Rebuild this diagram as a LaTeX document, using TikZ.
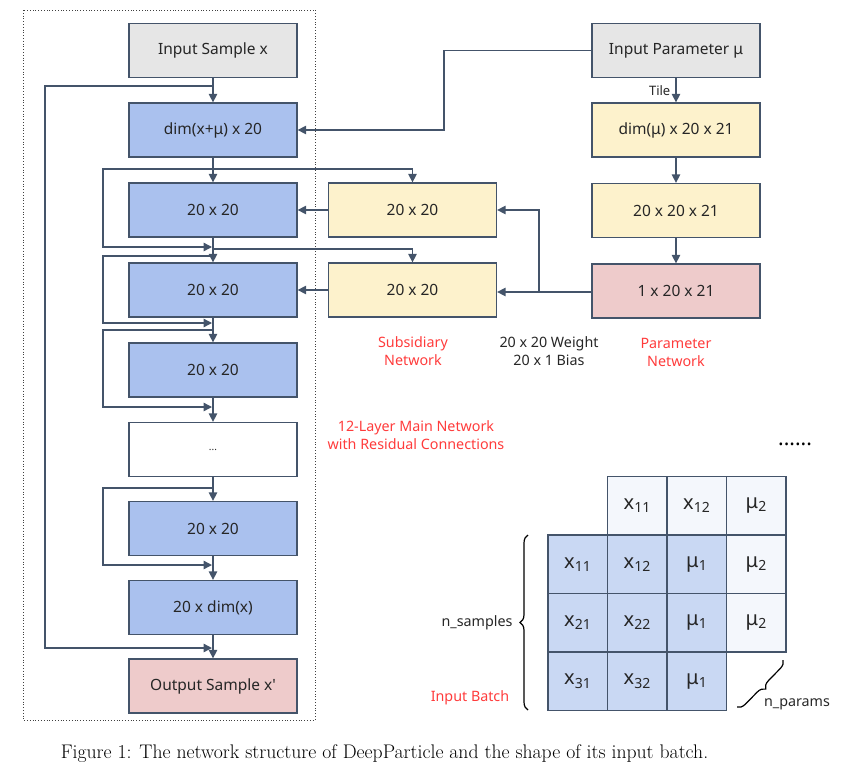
\documentclass[tikz,border=0pt]{standalone}
\usepackage{fontspec}
\newfontfamily\dfont{Noto Sans}
\usetikzlibrary{arrows.meta,decorations.pathreplacing}
\definecolor{edge}{HTML}{44546A}
\definecolor{gfill}{HTML}{E6E6E6}
\definecolor{bfill}{HTML}{AAC1EE}
\definecolor{yfill}{HTML}{FDF2CC}
\definecolor{pfill}{HTML}{EECBCB}
\definecolor{cfront}{HTML}{C9D8F3}
\definecolor{cback}{HTML}{F4F7FC}
\definecolor{redtxt}{HTML}{FF3B3B}
\definecolor{txt}{HTML}{262626}
\begin{document}
\begin{tikzpicture}[x=1pt,y=-1pt,
  box/.style={draw=edge, line width=1.3pt, minimum width=168pt, minimum height=54pt, inner sep=0pt, text=txt, font=\dfont\fontsize{15.5}{17}\selectfont},
  conn/.style={draw=edge, line width=1.4pt},
  arr/.style={conn, -{Triangle[length=8.5pt,width=8.5pt]}},
  note/.style={font=\dfont\fontsize{14.3}{18}\selectfont, align=center, inner sep=0pt},
  cell/.style={draw=edge, line width=1.1pt, minimum width=59.5pt, minimum height=58.5pt, inner sep=0pt, text=txt, font=\dfont\fontsize{20}{22}\selectfont},
  brc/.style={draw=black, line width=1.2pt, decorate, decoration={brace, amplitude=8pt}}
]
\useasboundingbox (0,0) rectangle (844,769);
% frame
\draw[black!75, dotted, line width=0.8pt] (23,10) rectangle (315,720);
% main column
\node[box, fill=gfill] (in) at (213,50.5) {Input Sample x};
\node[box, fill=bfill] (l0) at (213,130) {dim(x+μ) x 20};
\node[box, fill=bfill] (l1) at (213,210) {20 x 20};
\node[box, fill=bfill] (l2) at (213,290) {20 x 20};
\node[box, fill=bfill] (l3) at (213,370) {20 x 20};
\node[box, fill=white] (ld) at (213,449.5) {\fontsize{10}{10}\selectfont ...};
\node[box, fill=bfill] (l4) at (213,528.5) {20 x 20};
\node[box, fill=bfill] (l5) at (213,607.5) {20 x dim(x)};
\node[box, fill=pfill] (out) at (213,686) {Output Sample x'};
% subsidiary
\node[box, fill=yfill] (s1) at (412.5,210) {20 x 20};
\node[box, fill=yfill] (s2) at (412.5,290) {20 x 20};
% parameter network
\node[box, fill=gfill] (pin) at (676,50.5) {Input Parameter μ};
\node[box, fill=yfill] (p1) at (676,130) {dim(μ) x 20 x 21};
\node[box, fill=yfill] (p2) at (676,210.5) {20 x 20 x 21};
\node[box, fill=pfill] (p3) at (676,291) {1 x 20 x 21};
% junction coordinates
\coordinate (j0) at (213,86);
\coordinate (e0) at (213,648);
\coordinate (j1) at (213,169);
\coordinate (e1) at (213,247);
\coordinate (k2) at (213,249);
\coordinate (j2) at (213,256);
\coordinate (e2) at (213,323);
\coordinate (j3) at (213,330);
\coordinate (e3) at (213,407);
\coordinate (j4) at (213,488);
\coordinate (e4) at (213,565);
\coordinate (bp) at (444,130);
\coordinate (bq) at (539,292);
% main vertical flow
\draw[arr] (in) -- (l0);
\draw[arr] (l0) -- (l1);
\draw[arr] (l1) -- (l2);
\draw[arr] (l2) -- (l3);
\draw[arr] (l3) -- (ld);
\draw[arr] (ld) -- (l4);
\draw[arr] (l4) -- (l5);
\draw[arr] (l5) -- (out);
% residual connections
\draw[arr] (j0) -- ++(-168,0) |- ([xshift=-1pt]e0);
\draw[arr] (j1) -- ++(-110,0) |- ([xshift=-1pt]e1);
\draw[arr] (j2) -- ++(-110,0) |- ([xshift=-1pt]e2);
\draw[arr] (j3) -- ++(-110,0) |- ([xshift=-1pt]e3);
\draw[arr] (j4) -- ++(-110,0) |- ([xshift=-1pt]e4);
% to subsidiary
\draw[arr] (j1) -| (s1.north);
\draw[arr] (k2) -| (s2.north);
\draw[arr] (s1) -- (l1);
\draw[arr] (s2) -- (l2);
% parameter to main
\draw[arr] (pin.west) -| (bp) -- (l0.east);
\draw[arr] (pin) -- node[left=5pt, note, font=\dfont\fontsize{13}{14}\selectfont, text=txt] {Tile} (p1);
\draw[arr] (p1) -- (p2);
\draw[arr] (p2) -- (p3);
\draw[arr] (p3.west |- bq) -- (s2.east |- bq);
\draw[arr] (bq) |- (s1.east);
% labels
\node[note, text=redtxt] (lsub) at (413,351) {Subsidiary\\Network};
\node[note, text=txt] (lwb) at (549,351) {20 x 20 Weight\\20 x 1 Bias};
\node[note, text=redtxt] (lpar) at (676,352) {Parameter\\Network};
\node[note, text=redtxt] (lmain) at (416,435) {12-Layer Main Network\\with Residual Connections};
\node[font=\dfont\bfseries\fontsize{21}{22}\selectfont, inner sep=0pt] (dots) at (795,444) {......};
% batch grid: back layer
\node[cell, fill=cback] (b11) at (637.25,505.75) {x\textsubscript{11}};
\node[cell, fill=cback] (b12) at (696.75,505.75) {x\textsubscript{12}};
\node[cell, fill=cback] (b13) at (756.25,505.75) {μ\textsubscript{2}};
\node[cell, fill=cback] (b23) at (756.25,564.25) {μ\textsubscript{2}};
\node[cell, fill=cback] (b33) at (756.25,622.75) {μ\textsubscript{2}};
% front layer
\node[cell, fill=cfront] (f11) at (577.75,564.25) {x\textsubscript{11}};
\node[cell, fill=cfront] (f12) at (637.25,564.25) {x\textsubscript{12}};
\node[cell, fill=cfront] (f13) at (696.75,564.25) {μ\textsubscript{1}};
\node[cell, fill=cfront] (f21) at (577.75,622.75) {x\textsubscript{21}};
\node[cell, fill=cfront] (f22) at (637.25,622.75) {x\textsubscript{22}};
\node[cell, fill=cfront] (f23) at (696.75,622.75) {μ\textsubscript{1}};
\node[cell, fill=cfront] (f31) at (577.75,681.25) {x\textsubscript{31}};
\node[cell, fill=cfront] (f32) at (637.25,681.25) {x\textsubscript{32}};
\node[cell, fill=cfront] (f33) at (696.75,681.25) {μ\textsubscript{1}};
% braces
\coordinate (ba) at (528,710);
\coordinate (bb) at (528,535);
\draw[brc] (ba) -- (bb);
\node[note, text=txt] (nsamp) at (477,623) {n\_samples};
\node[note, text=redtxt] (ibatch) at (470,698) {Input Batch};
\coordinate (pa) at (783,660);
\coordinate (pb) at (737,707);
\draw[brc] (pa) -- (pb);
\node[note, text=txt] (npar) at (797,704) {n\_params};
% caption
\node[font=\fontsize{19.7}{22}\selectfont, inner sep=0pt] (cap) at (384.5,754) {Figure 1: The network structure of DeepParticle and the shape of its input batch.};
\end{tikzpicture}
\end{document}
